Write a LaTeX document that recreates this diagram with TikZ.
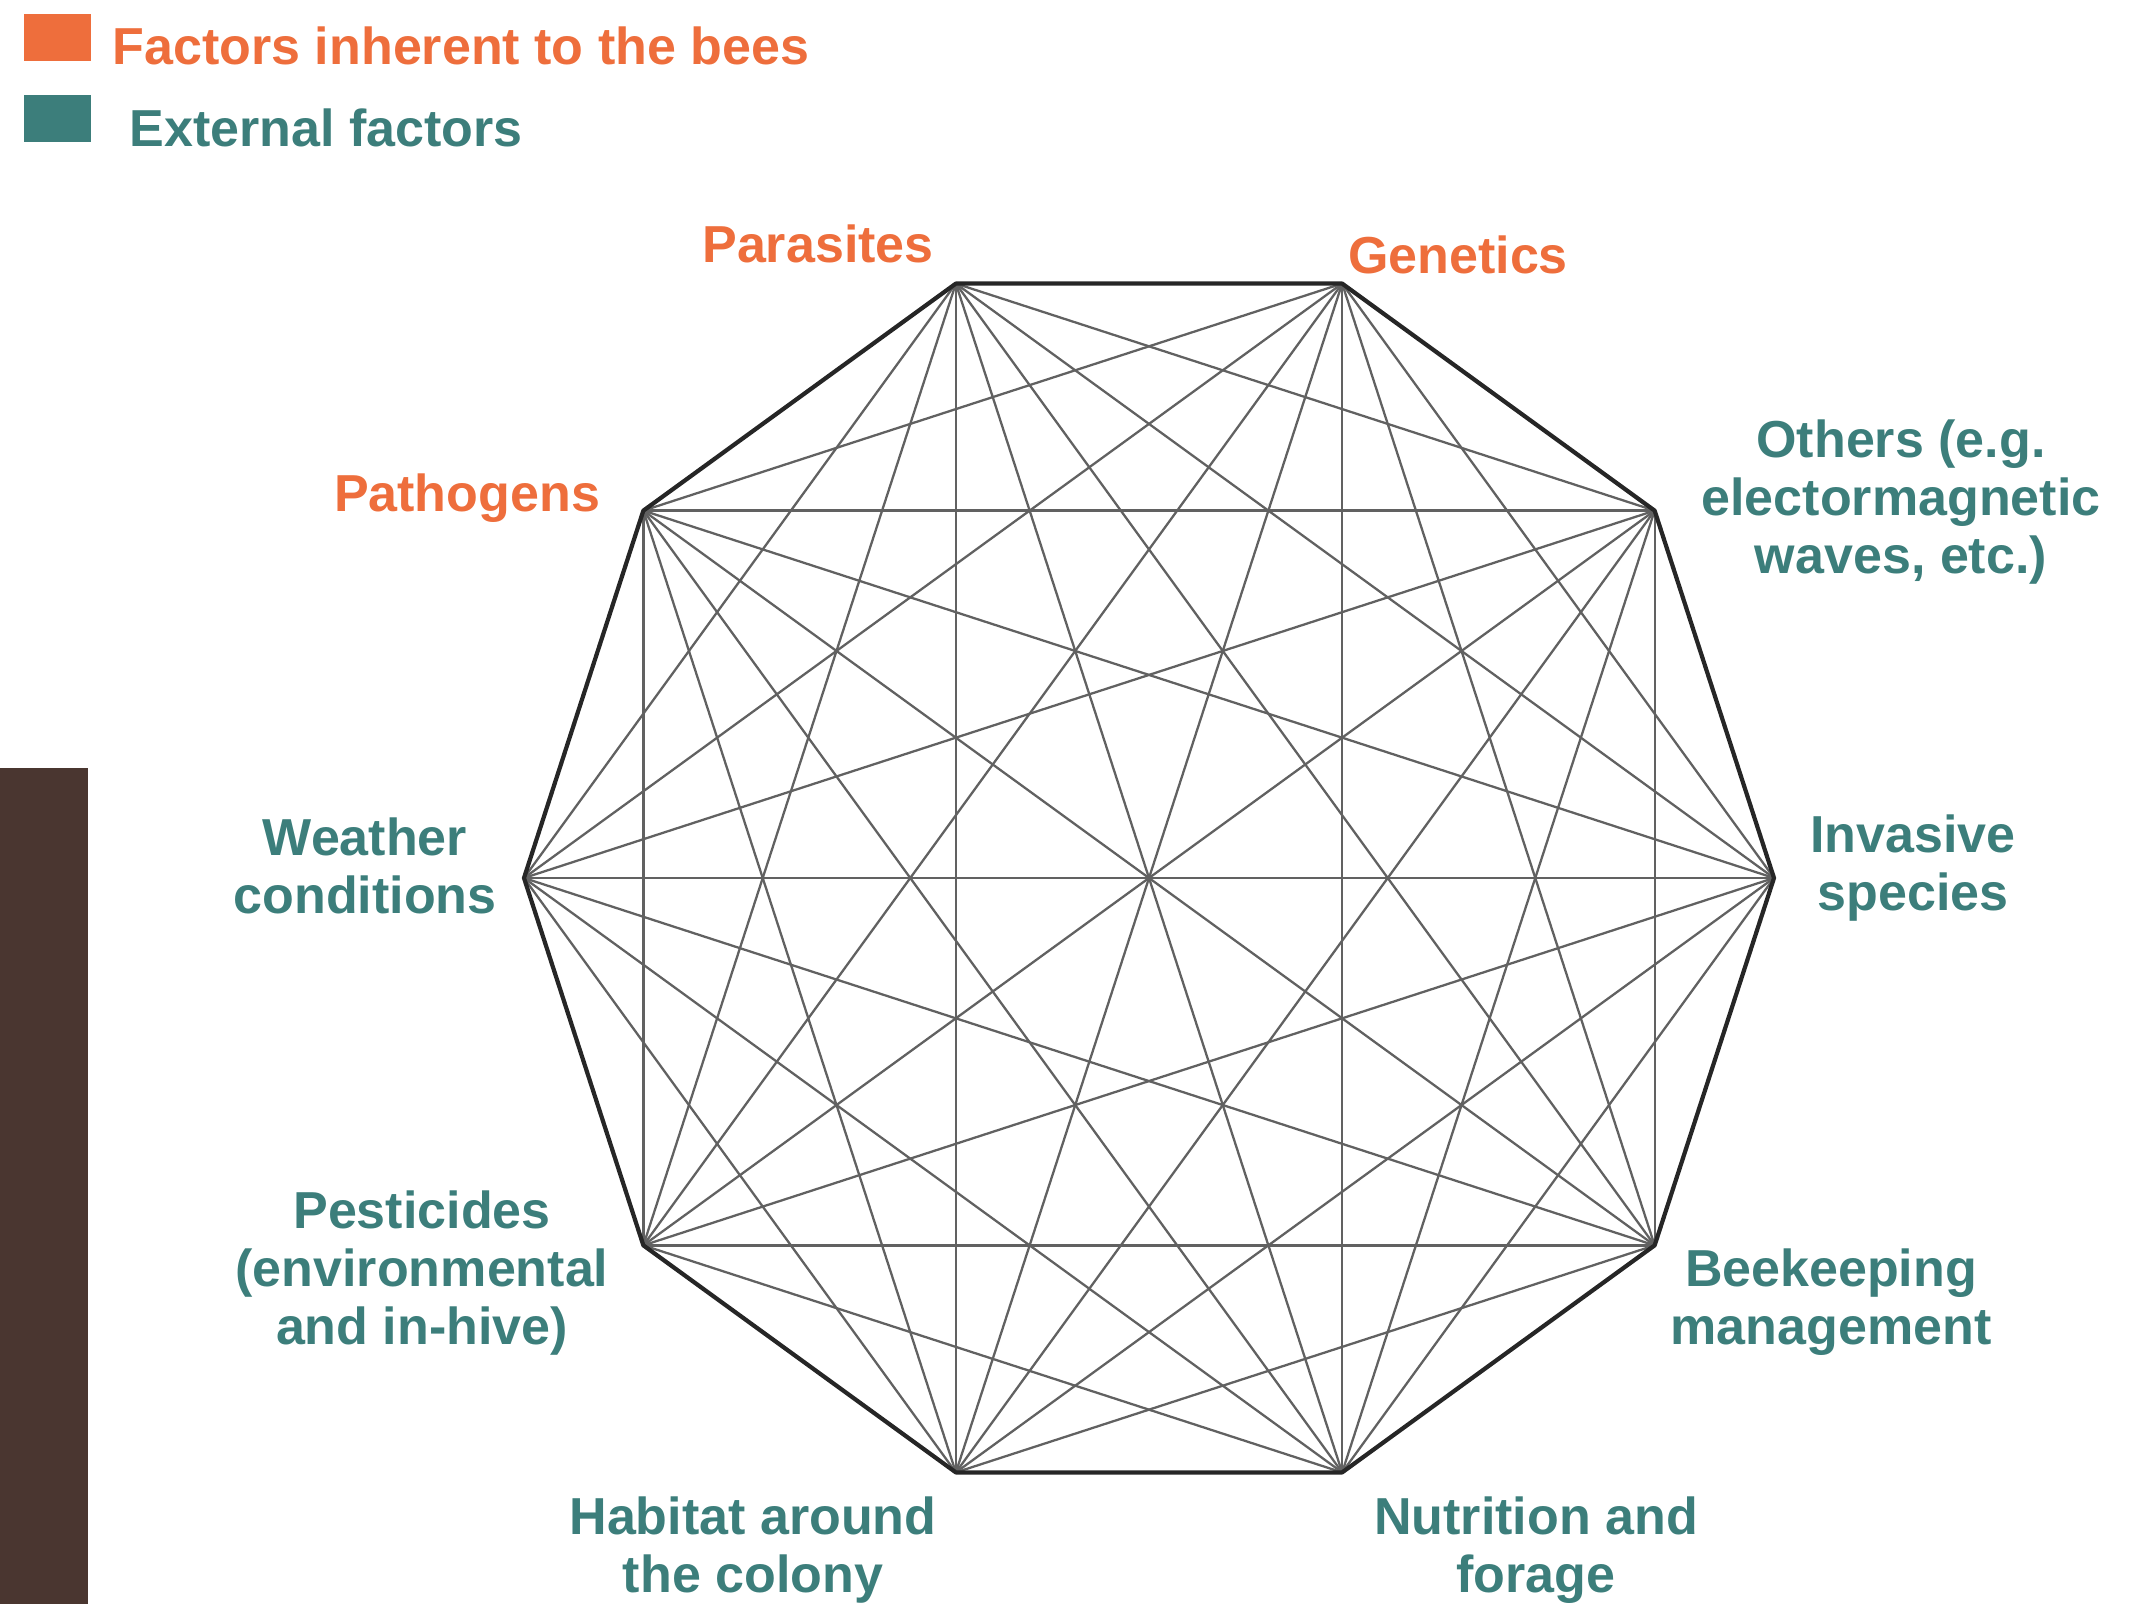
\documentclass[tikz,border=0pt]{standalone}
\usepackage{fontspec}
\setmainfont{Liberation Sans}
\usetikzlibrary{positioning}
\definecolor{beeorange}{HTML}{EE6E3C}
\definecolor{extteal}{HTML}{3C7E7B}
\definecolor{barbrown}{HTML}{4A3630}

\begin{document}
\begin{tikzpicture}[rim/.style = {draw=black!85, line width=1.2pt, line join=round},
  chord/.style = {draw=black!62, line width=0.65pt},
  lbl/.style = {inner sep=0pt, align=center, font=\fontsize{14.8}{16.6}\selectfont\bfseries},
  inner/.style = {lbl, text=beeorange},
  outer/.style = {lbl, text=extteal},
  key/.style = {minimum width=0.67cm, minimum height=0.47cm, inner sep=0pt}]
\useasboundingbox (0,0) rectangle (21.35,16.04);
\fill[barbrown] (0,0) rectangle (0.88,8.36);

\node[key, fill=beeorange] (keyin) at (0.575,15.665) {};
\node[key, fill=extteal] (keyout) at (0.575,14.85) {};
\node[lbl, text=beeorange, anchor=west] (keyintxt) at (1.12,15.58) {Factors inherent to the bees};
\node[lbl, text=extteal, anchor=west] (keyouttxt) at (1.29,14.76) {External factors};

\coordinate (c) at (11.49,7.26);
\foreach \i in {0,...,9}
  \path (c) ++(36*\i:6.25) coordinate (v\i);

\foreach \i in {0,...,9}
  \foreach \j in {0,...,9}
    {\ifnum\i<\j \draw[chord] (v\i) -- (v\j); \fi}
\draw[rim] (v0) \foreach \i in {1,...,9}{ -- (v\i)} -- cycle;

\node[inner] (parasites) at (8.18,13.60) {Parasites};
\node[inner] (genetics) at (14.58,13.49) {Genetics};
\node[inner] (pathogens) at (4.67,11.06) {Pathogens};
\node[outer] (others) at (19.01,11.02) {Others (e.g.\\electormagnetic\\waves, etc.)};
\node[outer] (weather) at (3.65,7.38) {Weather\\conditions};
\node[outer] (invasive) at (19.13,7.36) {Invasive\\species};
\node[outer] (pesticides) at (4.22,3.31) {Pesticides\\(environmental\\and in-hive)};
\node[outer] (beekeeping) at (18.31,3.02) {Beekeeping\\management};
\node[outer] (habitat) at (7.53,0.54) {Habitat around\\the colony};
\node[outer] (nutrition) at (15.36,0.54) {Nutrition and\\forage};
\end{tikzpicture}
\end{document}
